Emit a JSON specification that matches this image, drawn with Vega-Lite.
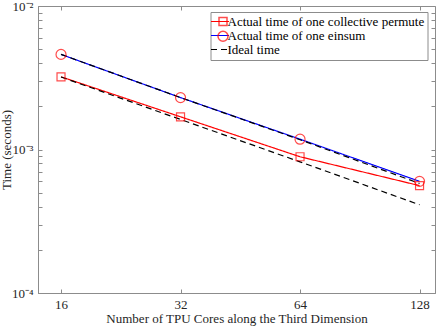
{
  "$schema": "https://vega.github.io/schema/vega-lite/v6.json",
  "autosize": {"type": "none"},
  "padding": {"left": 38, "top": 6, "right": 1, "bottom": 34},
  "width": 397,
  "height": 287,
  "config": {
    "font": "Liberation Serif",
    "view": {"stroke": "#8c8c8c", "strokeWidth": 1},
    "axis": {
      "grid": false,
      "domainColor": "#8c8c8c",
      "tickColor": "#8c8c8c",
      "labelColor": "#262626",
      "titleColor": "#262626",
      "labelFont": "Liberation Serif",
      "titleFont": "Liberation Serif",
      "labelFontSize": 13,
      "titleFontSize": 13,
      "titleFontWeight": "normal",
      "tickSize": -4
    },
    "legend": {
      "labelFont": "Liberation Serif",
      "labelFontSize": 13,
      "labelColor": "#000000",
      "labelLimit": 400
    }
  },
  "data": {
    "values": [
      {"series": "Actual time of one collective permute", "line": "p", "cores": 16, "time": 0.00321},
      {"series": "Actual time of one collective permute", "line": "p", "cores": 32, "time": 0.00169},
      {"series": "Actual time of one collective permute", "line": "p", "cores": 64, "time": 0.00089},
      {"series": "Actual time of one collective permute", "line": "p", "cores": 128, "time": 0.00056},
      {"series": "Actual time of one einsum", "line": "e", "cores": 16, "time": 0.0046},
      {"series": "Actual time of one einsum", "line": "e", "cores": 32, "time": 0.0023},
      {"series": "Actual time of one einsum", "line": "e", "cores": 64, "time": 0.00118},
      {"series": "Actual time of one einsum", "line": "e", "cores": 128, "time": 0.0006},
      {"series": "Ideal time", "line": "i1", "cores": 16, "time": 0.0032},
      {"series": "Ideal time", "line": "i1", "cores": 32, "time": 0.00162},
      {"series": "Ideal time", "line": "i1", "cores": 64, "time": 0.00082},
      {"series": "Ideal time", "line": "i1", "cores": 128, "time": 0.000412},
      {"series": "Ideal time", "line": "i2", "cores": 16, "time": 0.0046},
      {"series": "Ideal time", "line": "i2", "cores": 32, "time": 0.0023},
      {"series": "Ideal time", "line": "i2", "cores": 64, "time": 0.00117},
      {"series": "Ideal time", "line": "i2", "cores": 128, "time": 0.00058}
    ]
  },
  "resolve": {"axis": {"x": "independent", "y": "independent"}},
  "layer": [
    {
      "mark": {"type": "line", "clip": true},
      "encoding": {
        "x": {
          "field": "cores", "type": "quantitative",
          "scale": {"type": "log", "base": 2, "domain": [14, 140], "nice": false},
          "axis": {"orient": "bottom", "values": [16, 32, 64, 128], "title": "Number of TPU Cores along the Third Dimension", "labelPadding": 9, "titlePadding": 1, "labelFlush": false}
        },
        "y": {
          "field": "time", "type": "quantitative",
          "scale": {"type": "log", "domain": [0.0001, 0.01], "nice": false},
          "axis": {
            "orient": "left",
            "values": [0.0001, 0.0002, 0.0003, 0.0004, 0.0005, 0.0006, 0.0007, 0.0008, 0.0009, 0.001, 0.002, 0.003, 0.004, 0.005, 0.006, 0.007, 0.008, 0.009, 0.01],
            "labelExpr": "abs(datum.value - 0.01) < 1e-9 ? '10⁻²' : abs(datum.value - 0.001) < 1e-10 ? '10⁻³' : abs(datum.value - 0.0001) < 1e-11 ? '10⁻⁴' : ''",
            "title": "Time (seconds)",
            "titleX": -28,
            "titleBaseline": "alphabetic",
            "labelPadding": 9,
            "labelFlush": false,
            "labelOverlap": false
          }
        },
        "detail": {"field": "line"},
        "stroke": {
          "field": "series", "type": "nominal",
          "scale": {"domain": ["Actual time of one collective permute", "Actual time of one einsum", "Ideal time"], "range": ["#ff0000", "#0000ff", "#000000"]},
          "legend": {
            "title": null, "orient": "none", "legendX": 172.5, "legendY": 6,
            "symbolType": "M-2.25,0H2.25", "symbolSize": 64,
            "padding": 3, "rowPadding": -1.3, "labelOffset": 1,
            "strokeColor": "#8c8c8c", "fillColor": "#ffffff"
          }
        },
        "strokeDash": {
          "field": "series", "type": "nominal",
          "scale": {"domain": ["Actual time of one collective permute", "Actual time of one einsum", "Ideal time"], "range": [[1, 0], [1, 0], [6, 4]]}
        },
        "strokeWidth": {
          "field": "series", "type": "nominal",
          "scale": {"domain": ["Actual time of one collective permute", "Actual time of one einsum", "Ideal time"], "range": [1.2, 1.2, 2.2]}
        }
      }
    },
    {
      "transform": [
        {"filter": "datum.series != 'Ideal time'"},
        {"calculate": "datum.series", "as": "marker"}
      ],
      "mark": {"type": "point", "filled": false, "stroke": "#ff0000", "strokeWidth": 1.2, "clip": true},
      "encoding": {
        "x": {
          "field": "cores", "type": "quantitative",
          "scale": {"type": "log", "base": 2, "domain": [14, 140], "nice": false},
          "axis": {"orient": "top", "values": [16, 32, 64, 128], "labels": false, "title": null, "domain": false}
        },
        "y": {
          "field": "time", "type": "quantitative",
          "scale": {"type": "log", "domain": [0.0001, 0.01], "nice": false},
          "axis": {
            "orient": "right",
            "values": [0.0001, 0.0002, 0.0003, 0.0004, 0.0005, 0.0006, 0.0007, 0.0008, 0.0009, 0.001, 0.002, 0.003, 0.004, 0.005, 0.006, 0.007, 0.008, 0.009, 0.01],
            "labels": false, "title": null, "domain": false
          }
        },
        "shape": {
          "field": "marker", "type": "nominal",
          "scale": {"range": ["square", "circle"]},
          "legend": {
            "title": null, "orient": "none", "legendX": 175.5, "legendY": 6,
            "padding": 3, "rowPadding": -1.3, "labelExpr": "''",
            "strokeColor": null, "fillColor": null
          }
        },
        "size": {
          "field": "marker", "type": "nominal",
          "scale": {"range": [64, 100]}
        }
      }
    }
  ]
}
